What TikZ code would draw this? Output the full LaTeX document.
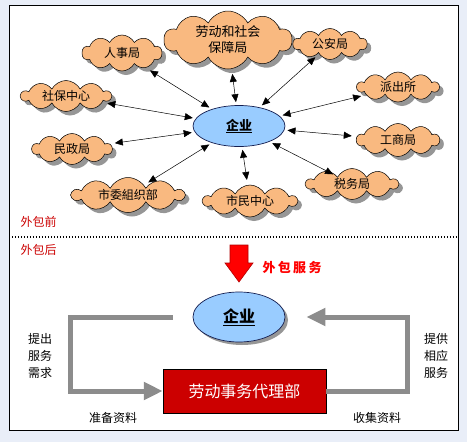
\documentclass[tikz,border=0pt]{standalone}
\usepackage{fontspec}
\setmainfont{Noto Sans CJK SC}
\usetikzlibrary{shapes.symbols,shapes.geometric,arrows.meta,shadows}
\definecolor{bgc}{RGB}{233,238,248}
\definecolor{cloudc}{RGB}{249,185,128}
\definecolor{entc}{RGB}{153,204,255}
\definecolor{entline}{RGB}{20,30,80}
\definecolor{redbox}{RGB}{204,0,0}
\definecolor{labred}{RGB}{204,0,0}
\definecolor{garrow}{RGB}{140,140,140}
\definecolor{shadowc}{RGB}{150,150,150}
\tikzset{
  cloudbox/.style={cloud, cloud puffs=10, cloud puff arc=125, cloud ignores aspect, draw=black, line width=0.5pt,
    fill=cloudc, inner sep=0pt, font=\fontsize{12}{14}\selectfont, align=center,
    drop shadow={shadow xshift=4pt, shadow yshift=-4pt, fill=shadowc, opacity=1}},
  entbox/.style={ellipse, draw=entline, line width=0.7pt, fill=entc, inner sep=0pt},
  link/.style={{Triangle[width=7pt,length=8pt]}-{Triangle[width=7pt,length=8pt]}, line width=0.5pt, black, shorten <=3pt, shorten >=5pt},
  grayarr/.style={-{Triangle[width=17pt,length=19pt]}, line width=5pt, garrow},
  sidelab/.style={font=\fontsize{12}{17}\selectfont, align=center},
  redlab/.style={font=\fontsize{12}{14}\selectfont, text=labred}
}
\begin{document}
\begin{tikzpicture}[x=1pt,y=-1pt]
\useasboundingbox[fill=bgc] (0,0) rectangle (467,442);
\draw[fill=white, line width=0.8pt] (9,5) rectangle (458,430);
% top section
\node[entbox, minimum width=92pt, minimum height=41pt, font=\bfseries\fontsize{13}{14}\selectfont] (ent) at (239,126) {\underline{企业}};
\node[cloudbox, minimum width=128pt, minimum height=58pt, font=\fontsize{13}{16}\selectfont] (ldsb) at (228,40) {劳动和社会\\保障局};
\node[cloudbox, minimum width=80pt, minimum height=36pt] (rsj) at (122,53) {人事局};
\node[cloudbox, minimum width=74pt, minimum height=31pt] (gaj) at (330,44) {公安局};
\node[cloudbox, minimum width=90pt, minimum height=31pt] (sbzx) at (66,96) {社保中心};
\node[cloudbox, minimum width=82pt, minimum height=30pt] (pcs) at (398,87) {派出所};
\node[cloudbox, minimum width=80pt, minimum height=31pt] (mzj) at (72,149) {民政局};
\node[cloudbox, minimum width=83pt, minimum height=33pt] (gsj) at (398,140) {工商局};
\node[cloudbox, minimum width=92pt, minimum height=31pt] (swj) at (352,184) {税务局};
\node[cloudbox, minimum width=112pt, minimum height=35pt] (swzzb) at (128,195) {市委組织部};
\node[cloudbox, minimum width=94pt, minimum height=32pt] (smzx) at (250,201) {市民中心};
\foreach \c in {ldsb,rsj,gaj,sbzx,pcs,mzj,gsj,swj,swzzb,smzx}{
  \draw[link] (ent) -- (\c);
}
\node[redlab, anchor=west] (wbq) at (17,222) {外包前};
\draw[line width=1.3pt, dash pattern=on 1.3pt off 1.7pt] (9,237) -- (458,237);
\node[redlab, anchor=west] (wbh) at (17,250) {外包后};
% bottom section
\draw[fill=red, draw=red!70!black, line width=0.6pt] (230,245) -- (248,245) -- (248,263) -- (253,263) -- (239,282) -- (225,263) -- (230,263) -- cycle;
\node[anchor=west, text=red, font=\bfseries\fontsize{13}{14}\selectfont\addfontfeature{LetterSpace=18}] (wbfw) at (259,268) {外包服务};
\node[entbox, minimum width=92pt, minimum height=50pt, font=\bfseries\fontsize{16}{18}\selectfont,
  drop shadow={shadow xshift=3pt, shadow yshift=-3pt, fill=shadowc, opacity=1}] (ent2) at (239,317) {\underline{企业}};
\node[draw=black, line width=0.5pt, fill=redbox, text=white, minimum width=163pt, minimum height=44pt, inner sep=0pt,
  font=\fontsize{16}{18}\selectfont] (dlb) at (244.5,391) {劳动事务代理部};
\draw[grayarr] ([xshift=-20pt]ent2.west) -- ++(-102,0) |- (dlb.west);
\draw[grayarr] (dlb.east) -- ++(81,0) |- ([xshift=21pt]ent2.east);
\node[sidelab] (tcfw) at (40,356) {提出\\服务\\需求};
\node[sidelab] (tgxy) at (436,356) {提供\\相应\\服务};
\node[sidelab] (zbzl) at (113,418) {准备资料};
\node[sidelab] (sjzl) at (377,418) {收集资料};
\end{tikzpicture}
\end{document}
